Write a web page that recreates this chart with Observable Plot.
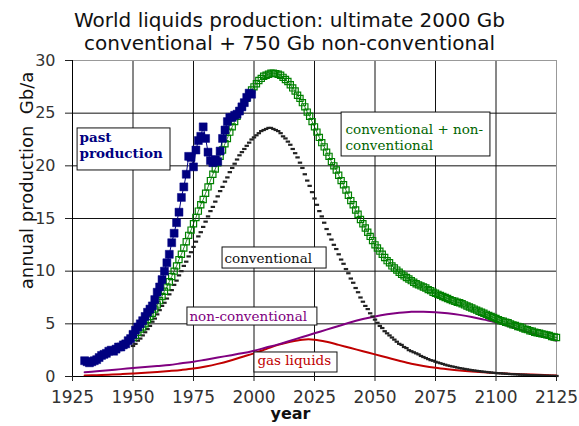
<!DOCTYPE html>
<html><head><meta charset="utf-8">
<script src="https://cdn.jsdelivr.net/npm/d3@7"></script>
<script src="https://cdn.jsdelivr.net/npm/@observablehq/plot@0.6"></script>
<style>
body{margin:0;background:#fff;}
#title{width:579px;height:56px;box-sizing:border-box;padding-top:9px;text-align:center;font-family:"DejaVu Sans";font-size:20px;line-height:23.3px;color:#111;overflow:visible;}
svg{display:block;overflow:visible}
</style></head><body>
<div id="title">World liquids production: ultimate 2000 Gb<br>conventional + 750 Gb non-conventional</div>
<div id="chart"></div>
<script>
// ---- data ----
const xTicks = [1925,1950,1975,2000,2025,2050,2075,2100,2125];
const yTicks = [0,5,10,15,20,25,30];

const pastStart = 1930;
const pastProduction = [
 1.5,1.4,1.3,1.4,1.5,1.6,1.8,2.0,2.1,2.2,
 2.4,2.5,2.4,2.6,2.8,2.8,3.0,3.1,3.4,3.6,
 4.0,4.4,4.7,5.0,5.3,5.7,6.1,6.4,6.7,7.3,
 8.0,8.5,9.2,10.0,10.8,11.6,12.7,13.6,14.6,15.6,
 17.0,18.0,19.2,20.9,20.8,19.9,21.5,22.4,22.8,23.7,
 22.6,21.3,20.5,20.3,20.6,20.4,21.4,22.6,23.4,24.2,
 24.6,24.6,24.8,24.9,25.2,25.6,26.0,26.5,26.9,26.8];

const modelStart = 1950;
const conventional = [
 2.9,3.1,3.4,3.6,3.9,4.2,4.5,4.8,5.2,5.5,
 5.9,6.3,6.7,7.0,7.4,7.8,8.2,8.7,9.1,9.6,
 10.0,10.5,10.9,11.4,11.8,12.3,12.8,13.3,13.7,14.2,
 14.7,15.2,15.7,16.1,16.6,17.1,17.6,18.0,18.5,18.9,
 19.4,19.8,20.2,20.6,21.0,21.3,21.6,21.9,22.2,22.5,
 22.7,22.9,23.1,23.3,23.4,23.5,23.6,23.6,23.5,23.4,
 23.3,23.1,22.8,22.6,22.3,22.0,21.6,21.2,20.8,20.3,
 19.8,19.2,18.6,18.1,17.5,16.9,16.3,15.7,15.2,14.6,
 14.0,13.5,13.0,12.5,12.1,11.6,11.1,10.7,10.2,9.8,
 9.3,8.9,8.4,8.0,7.5,7.1,6.7,6.4,6.0,5.7,
 5.4,5.1,4.8,4.6,4.3,4.1,3.9,3.7,3.5,3.3,
 3.1,3.0,2.8,2.7,2.5,2.4,2.3,2.2,2.1,1.95,
 1.85,1.75,1.65,1.55,1.5,1.4,1.33,1.26,1.19,1.12,
 1.05,1.0,0.95,0.9,0.85,0.8,0.76,0.72,0.68,0.64,
 0.6,0.57,0.54,0.51,0.48,0.45,0.43,0.4,0.38,0.35,
 0.33,0.31,0.3,0.28,0.26,0.25,0.23,0.22,0.21,0.19,
 0.18,0.17,0.16,0.15,0.13,0.12,0.11,0.1,0.1,0.09,
 0.08,0.07,0.07,0.06,0.06,0.05];

const convPlusNonConv = [
 3.7,3.9,4.2,4.5,4.7,5.0,5.4,5.7,6.0,6.4,
 6.8,7.2,7.6,8.1,8.5,9.0,9.5,10.0,10.5,11.1,
 11.6,12.2,12.8,13.4,13.9,14.5,15.1,15.7,16.3,16.8,
 17.4,18.0,18.6,19.2,19.7,20.3,20.9,21.5,22.1,22.6,
 23.2,23.7,24.2,24.7,25.2,25.6,26.0,26.4,26.8,27.2,
 27.5,27.8,28.1,28.3,28.5,28.6,28.7,28.8,28.8,28.75,
 28.7,28.6,28.4,28.2,28.0,27.7,27.4,27.1,26.7,26.4,
 26.0,25.6,25.1,24.7,24.2,23.7,23.2,22.7,22.2,21.8,
 21.3,20.9,20.4,20.0,19.6,19.1,18.6,18.2,17.7,17.2,
 16.7,16.3,15.8,15.4,14.9,14.5,14.1,13.7,13.3,12.9,
 12.5,12.2,11.9,11.6,11.3,11.0,10.8,10.5,10.3,10.1,
 9.9,9.7,9.55,9.4,9.25,9.1,8.95,8.8,8.7,8.6,
 8.5,8.4,8.25,8.15,8.0,7.9,7.8,7.7,7.6,7.5,
 7.4,7.3,7.2,7.15,7.05,7.0,6.9,6.8,6.7,6.6,
 6.5,6.4,6.3,6.2,6.1,6.0,5.9,5.8,5.7,5.6,
 5.5,5.4,5.3,5.25,5.15,5.1,5.0,4.9,4.85,4.75,
 4.7,4.6,4.5,4.45,4.35,4.3,4.2,4.15,4.1,4.05,
 4.0,3.95,3.9,3.8,3.75,3.7];

const lineYears = [1930,1935,1940,1945,1950,1955,1960,1965,1970,1975,1980,1985,1990,1995,2000,2005,2010,2015,2020,2025,2030,2035,2040,2045,2050,2055,2060,2065,2070,2075,2080,2085,2090,2095,2100,2105,2110,2115,2120,2125];
const nonConventional = [0.4,0.5,0.6,0.7,0.8,0.9,1.0,1.1,1.25,1.4,1.6,1.8,2.0,2.2,2.45,2.75,3.05,3.4,3.75,4.1,4.45,4.8,5.15,5.45,5.7,5.9,6.05,6.15,6.15,6.1,6.0,5.85,5.65,5.4,5.15,4.8,4.45,4.1,3.75,3.4];
const gasLiquids = [0.1,0.13,0.17,0.22,0.28,0.35,0.43,0.52,0.62,0.75,0.95,1.2,1.5,1.85,2.2,2.6,3.0,3.3,3.5,3.5,3.3,3.0,2.7,2.4,2.1,1.8,1.5,1.22,1.0,0.82,0.68,0.56,0.47,0.4,0.33,0.27,0.22,0.18,0.14,0.1];

// annotation boxes (data units) and texts
const boxes = [
 {x1:1927.1, x2:1965.5, y1:19.56, y2:23.55},
 {x1:2036.2, x2:2097.7, y1:20.89, y2:25.06},
 {x1:1987.0, x2:2030.0, y1:10.25, y2:12.25},
 {x1:1972.5, x2:2026.2, y1:4.84, y2:6.55},
 {x1:2000.2, x2:2034.5, y1:0.38, y2:2.28}
];
const boldLabels = [{text:"past\nproduction", x:1927.9, y:21.95, color:"#000080"}];
const labels = [
 {text:"conventional + non-\nconventional", x:2037.8, y:22.72, color:"#006400"},
 {text:"conventional", x:1987.8, y:11.23, color:"#111111"},
 {text:"non-conventional", x:1973.3, y:5.72, color:"#800080"},
 {text:"gas liquids", x:2001.4, y:1.6, color:"#c00000"}
];

// ---- build rows ----
const past = pastProduction.map((v,i)=>({year:pastStart+i, value:v}));
const conv = conventional.map((v,i)=>({year:modelStart+i, value:v}));
const total = convPlusNonConv.map((v,i)=>({year:modelStart+i, value:v}));
const nonc = lineYears.map((y,i)=>({year:y, value:nonConventional[i]}));
const gas = lineYears.map((y,i)=>({year:y, value:gasLiquids[i]}));

const dashSymbol = {draw(ctx){ ctx.rect(-2.2,-1.1,4.4,2.2); }};

const chart = Plot.plot({
  width:579, height:370,
  marginTop:4, marginBottom:50, marginLeft:72, marginRight:23,
  x:{domain:[1925,2125]},
  y:{domain:[0,30]},
  color:{type:"identity"},
  style:{fontFamily:"DejaVu Sans", background:"white", color:"#222"},
  marks:[
    Plot.ruleX(xTicks.slice(1,-1), {stroke:"#111", strokeWidth:1}),
    Plot.ruleY(yTicks.slice(1,-1), {stroke:"#111", strokeWidth:1}),
    Plot.ruleY([30], {stroke:"#999"}),
    Plot.ruleX([2125], {stroke:"#999"}),
    Plot.lineY(gas, {x:"year", y:"value", stroke:"#c00000", strokeWidth:2, curve:"catmull-rom"}),
    Plot.lineY(nonc, {x:"year", y:"value", stroke:"#800080", strokeWidth:2, curve:"catmull-rom"}),
    Plot.dot(conv, {x:"year", y:"value", symbol:dashSymbol, fill:"#222", stroke:"none", r:2}),
    Plot.lineY(total, {x:"year", y:"value", stroke:"#006400", strokeWidth:0.8}),
    Plot.dot(total, {x:"year", y:"value", symbol:"square", r:3.5, stroke:"#008000", strokeWidth:1.2, fill:"none"}),
    Plot.lineY(past, {x:"year", y:"value", stroke:"#000080", strokeWidth:1}),
    Plot.dot(past, {x:"year", y:"value", symbol:"square", r:4.5, fill:"#000080", stroke:"#000080", strokeWidth:0.5}),
    Plot.rect(boxes, {x1:"x1", x2:"x2", y1:"y1", y2:"y2", fill:"white", stroke:"#111", strokeWidth:1}),
    Plot.text(boldLabels, {x:"x", y:"y", text:"text", fill:"color", textAnchor:"start", lineAnchor:"middle", fontFamily:"DejaVu Serif", fontWeight:"bold", fontSize:13.5, lineHeight:1.185}),
    Plot.text(labels, {x:"x", y:"y", text:"text", fill:"color", textAnchor:"start", lineAnchor:"middle", fontFamily:"DejaVu Serif", fontSize:13.5, lineHeight:1.185}),
    Plot.ruleX([1925], {stroke:"#000"}),
    Plot.ruleY([0], {stroke:"#000"}),
    Plot.axisX({ticks:xTicks, tickFormat:d=>String(d), tickSize:5, tickPadding:9, fontSize:17, fill:"#333", label:null}),
    Plot.axisY({ticks:yTicks, tickSize:7, tickPadding:10, fontSize:16, fill:"#333", label:null}),
    Plot.text(["annual production\u00a0 Gb/a"], {frameAnchor:"left", dx:-45, dy:-38, rotate:-90, fontSize:18, fill:"#111", textAnchor:"middle", lineAnchor:"middle"}),
    Plot.text(["year"], {frameAnchor:"bottom", dx:-24, dy:37, fontSize:16, fontWeight:"bold", fill:"#111", textAnchor:"middle", lineAnchor:"middle"})
  ]
});
document.getElementById("chart").appendChild(chart);
</script>
</body></html>
